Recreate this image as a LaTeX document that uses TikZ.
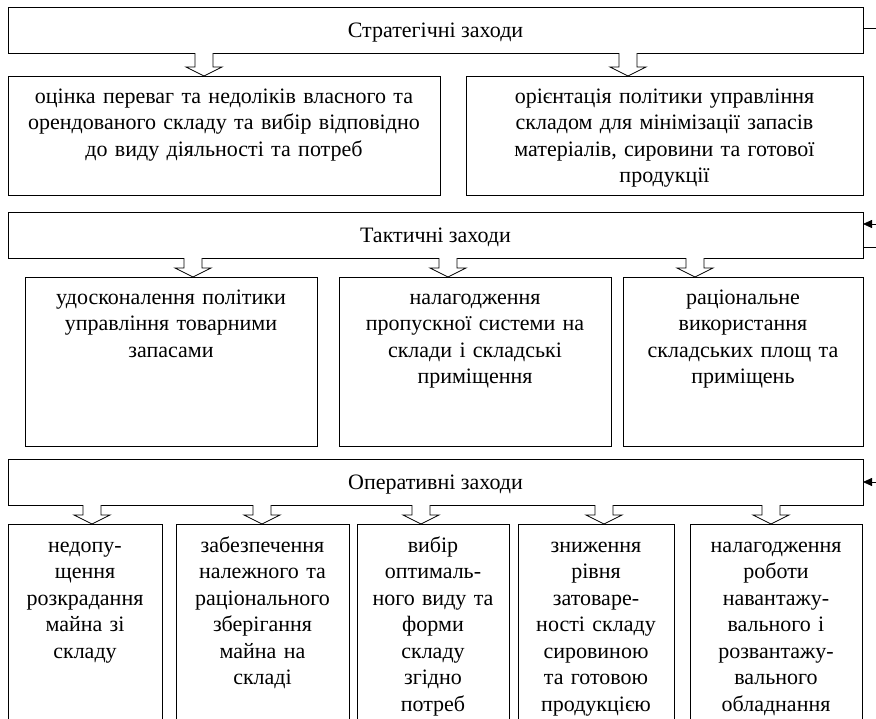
\documentclass[tikz,border=0pt]{standalone}
\usepackage{fontspec}
\setmainfont{Liberation Serif}
\usetikzlibrary{calc,arrows.meta}
\newcommand\blockarr[3]{%
  \draw[blk] let \p1=(#2.south), \p2=(#3.north) in
    (#1pt-9pt,\y1) -- (#1pt-9pt,\y2+9pt) -- (#1pt-18pt,\y2+9pt) -- (#1pt,\y2)
    -- (#1pt+18pt,\y2+9pt) -- (#1pt+9pt,\y2+9pt) -- (#1pt+9pt,\y1);}
\begin{document}
\begin{tikzpicture}[x=1pt,y=-1pt,
  box/.style={draw,line width=0.8pt,rectangle,inner sep=0pt,outer sep=0pt,anchor=north west},
  txt/.style={font=\fontsize{22}{26.5}\selectfont,align=center,inner sep=0pt,anchor=north},
  ttl/.style={font=\fontsize{22}{26.5}\selectfont,inner sep=0pt,anchor=base},
  blk/.style={draw,line width=0.8pt,fill=white,line join=miter},
  con/.style={draw,line width=0.8pt},
  arr/.style={con,-{Triangle[length=9pt,width=8pt]}}]
\useasboundingbox (0,0) rectangle (876,718);

% level boxes
\node[box,minimum width=855pt,minimum height=46pt] (strat) at (8,7) {};
\node[box,minimum width=432pt,minimum height=119pt] (s1) at (8,76) {};
\node[box,minimum width=397pt,minimum height=119pt] (s2) at (466,76) {};
\node[box,minimum width=855pt,minimum height=46pt] (tact) at (8,212) {};
\node[box,minimum width=292pt,minimum height=169pt] (t1) at (25,277) {};
\node[box,minimum width=272pt,minimum height=169pt] (t2) at (339,277) {};
\node[box,minimum width=240pt,minimum height=169pt] (t3) at (623,277) {};
\node[box,minimum width=855pt,minimum height=46pt] (oper) at (8,459) {};
\node[box,minimum width=154pt,minimum height=215pt] (o1) at (8,524) {};
\node[box,minimum width=173pt,minimum height=215pt] (o2) at (176,524) {};
\node[box,minimum width=152pt,minimum height=215pt] (o3) at (357,524) {};
\node[box,minimum width=156pt,minimum height=215pt] (o4) at (518,524) {};
\node[box,minimum width=172pt,minimum height=215pt] (o5) at (690,524) {};

% titles
\node[ttl] (strattxt) at ($(strat.center)+(0,7)$) {Стратегічні заходи};
\node[ttl] (tacttxt) at ($(tact.center)+(0,7)$) {Тактичні заходи};
\node[ttl] (opertxt) at ($(oper.center)+(0,7)$) {Оперативні заходи};

% texts
\node[txt,text width=450pt] (s1txt) at ($(s1.north)+(0,8.5)$) {\strut оцінка переваг та недоліків власного та\\орендованого складу та вибір відповідно\\до виду діяльності та потреб};
\node[txt,text width=410pt] (s2txt) at ($(s2.north)+(0,8.5)$) {\strut орієнтація політики управління\\складом для мінімізації запасів\\матеріалів, сировини та готової\\продукції};
\node[txt,text width=292pt] (t1txt) at ($(t1.north)+(0,8.5)$) {\strut удосконалення політики\\управління товарними\\запасами};
\node[txt,text width=272pt] (t2txt) at ($(t2.north)+(0,8.5)$) {\strut налагодження\\пропускної системи на\\склади і складські\\приміщення};
\node[txt,text width=240pt] (t3txt) at ($(t3.north)+(0,8.5)$) {\strut раціональне\\використання\\складських площ та\\приміщень};
\node[txt,text width=160pt] (o1txt) at ($(o1.north)+(0,9.5)$) {\strut недопу-\\щення\\розкрадання\\майна зі\\складу};
\node[txt,text width=173pt] (o2txt) at ($(o2.north)+(0,9.5)$) {\strut забезпечення\\належного та\\раціонального\\зберігання\\майна на\\складі};
\node[txt,text width=152pt] (o3txt) at ($(o3.north)+(0,9.5)$) {\strut вибір\\оптималь-\\ного виду та\\форми\\складу\\згідно\\потреб};
\node[txt,text width=156pt] (o4txt) at ($(o4.north)+(0,9.5)$) {\strut зниження\\рівня\\затоваре-\\ності складу\\сировиною\\та готовою\\продукцією};
\node[txt,text width=172pt] (o5txt) at ($(o5.north)+(0,9.5)$) {\strut налагодження\\роботи\\навантажу-\\вального і\\розвантажу-\\вального\\обладнання};

% block arrows
\blockarr{204}{strat}{s1}
\blockarr{628}{strat}{s2}
\blockarr{193}{tact}{t1}
\blockarr{448}{tact}{t2}
\blockarr{695}{tact}{t3}
\blockarr{92}{oper}{o1}
\blockarr{262}{oper}{o2}
\blockarr{421}{oper}{o3}
\blockarr{604}{oper}{o4}
\blockarr{771}{oper}{o5}

% right-side connectors
\coordinate (r1) at (876,28);
\coordinate (r2) at (876,224);
\coordinate (r3) at (876,247);
\coordinate (r4) at (876,482);
\draw[con] (r1 -| strat.east) -- (r1);
\draw[arr] (r2) -- (r2 -| tact.east);
\draw[con] (r3 -| tact.east) -- (r3);
\draw[arr] (r4) -- (r4 -| oper.east);
\end{tikzpicture}
\end{document}
